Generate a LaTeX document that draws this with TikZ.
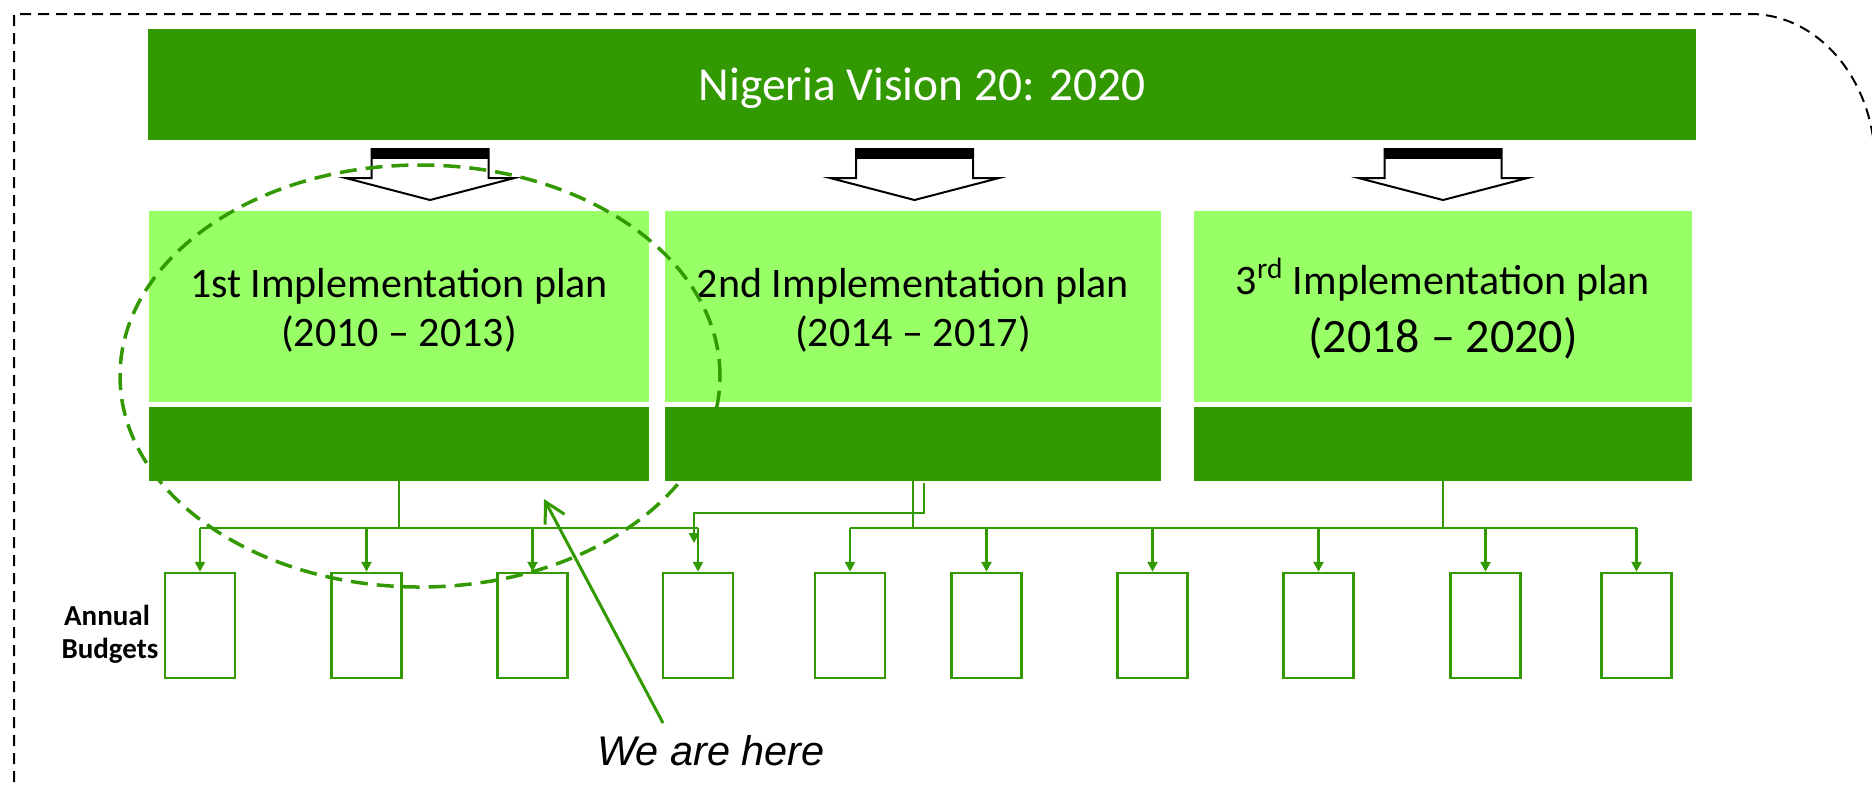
\documentclass[tikz,border=0pt]{standalone}
\usepackage{fontspec}
\setmainfont{Carlito}
\newfontfamily\arialfont{Liberation Sans}
\usetikzlibrary{arrows.meta}
\definecolor{dkgreen}{HTML}{339900}
\definecolor{ltgreen}{HTML}{99FF66}
\tikzset{
  darkbar/.style={fill=dkgreen, draw=none, inner sep=0pt, minimum height=37pt},
  lightbar/.style={fill=ltgreen, draw=none, inner sep=0pt, minimum height=95.5pt},
  plantext/.style={inner sep=0pt, anchor=base, font=\fontsize{21}{25}\selectfont},
  budget/.style={draw=dkgreen, line width=1.25pt, fill=white, minimum width=35pt, minimum height=52.5pt, inner sep=0pt},
  conn/.style={draw=dkgreen, line width=1.25pt},
  feed/.style={conn, -{Triangle[length=5pt,width=5pt]}},
  dropshape/.style={fill=white, draw=black, line width=1pt, line join=miter},
  focusring/.style={draw=dkgreen, line width=1.75pt, dash pattern=on 8.5pt off 4.5pt},
  outerframe/.style={draw=black, line width=1pt, dash pattern=on 5.5pt off 3.5pt},
  pointer/.style={draw=dkgreen, line width=1.5pt, -{Straight Barb[length=10pt,width=11pt]}},
  budgetlabel/.style={inner sep=0pt, anchor=base, font=\bfseries\fontsize{14.5}{17}\selectfont},
}
\newcommand{\plandrop}[1]{%
  \path[dropshape] (#1-58.5,149) -- (#1+58.5,149) -- (#1+58.5,178) -- (#1+84.5,178) -- (#1,200) -- (#1-84.5,178) -- (#1-58.5,178) -- cycle;
  \fill[black] (#1-58.5,148) rectangle (#1+58.5,159);}
\begin{document}
\begin{tikzpicture}[x=0.5pt, y=-0.5pt]
\useasboundingbox (0,0) rectangle (1872,784);
\clip (0,0) rectangle (1872,784);
\fill[white] (0,0) rectangle (1872,784);

% outer dashed frame
\path[outerframe] (14,800) -- (14,14) -- (1750,14) .. controls (1819,14) and (1875,81) .. (1875,164) -- (1875,800);

% main bar
\node[darkbar, minimum width=774pt, minimum height=55.5pt] (vision) at (922,84.5) {};
\node[inner sep=0pt, anchor=base, text=white, font=\fontsize{23.7}{28}\selectfont] (visiontext) at (922,100) {Nigeria Vision 20: 2020};

% block arrows
\plandrop{430}
\plandrop{914.5}
\plandrop{1443}

% plan boxes
\node[lightbar, minimum width=250pt] (plan1) at (399,306.5) {};
\node[lightbar, minimum width=248pt] (plan2) at (913,306.5) {};
\node[lightbar, minimum width=249pt] (plan3) at (1443,306.5) {};
\node[darkbar, minimum width=250pt] (dk1) at (399,444) {};
\node[darkbar, minimum width=248pt] (dk2) at (913,444) {};
\node[darkbar, minimum width=249pt] (dk3) at (1443,444) {};

\node[plantext] (p1a) at (399,297) {1st Implementation plan};
\node[plantext] (p1b) at (399,346) {(2010 – 2013)};
\node[plantext] (p2a) at (913,297) {2nd Implementation plan};
\node[plantext] (p2b) at (913,346) {(2014 – 2017)};
\node[plantext] (p3a) at (1443,294) {3\textsuperscript{rd} Implementation plan};
\node[plantext, font=\fontsize{24}{28}\selectfont] (p3b) at (1443,352) {(2018 – 2020)};

% annual budgets
\node[budget] (b1) at (200,625.5) {};
\node[budget] (b2) at (366.5,625.5) {};
\node[budget] (b3) at (532.5,625.5) {};
\node[budget] (b4) at (698,625.5) {};
\node[budget] (b5) at (850,625.5) {};
\node[budget] (b6) at (986.5,625.5) {};
\node[budget] (b7) at (1152.5,625.5) {};
\node[budget] (b8) at (1318.5,625.5) {};
\node[budget] (b9) at (1485.5,625.5) {};
\node[budget] (b10) at (1636.5,625.5) {};

\node[budgetlabel] (ann) at (107,625) {Annual};
\node[budgetlabel] (bud) at (110,658) {Budgets};

% buses
\coordinate (busy) at (0,528);
\draw[conn] (dk1.south) -- (dk1.south |- busy);
\draw[conn] (b1.north |- busy) -- (b4.north |- busy);
\foreach \b in {b1,b2,b3,b4}{\draw[feed] (\b.north |- busy) -- (\b.north);}
\draw[conn] (dk2.south) -- (dk2.south |- busy);
\draw[conn] (dk3.south) -- (dk3.south |- busy);
\draw[conn] (b5.north |- busy) -- (b10.north |- busy);
\foreach \b in {b5,b6,b7,b8,b9,b10}{\draw[feed] (\b.north |- busy) -- (\b.north);}

% stray connector
\coordinate (s0) at (924,483);
\coordinate (s1) at (694,543);
\draw[feed] (s0) -- (924,513) -| (s1);

% focus ellipse
\draw[focusring] (420,376) ellipse [x radius=150pt, y radius=105.5pt];

% we are here
\node[inner sep=0pt, anchor=base, font=\arialfont\itshape\fontsize{20.75}{24}\selectfont] (here) at (711,765) {We are here};
\coordinate (tail) at (663,723);
\coordinate (tip) at (544,499);
\draw[pointer] (tail) -- (tip);
\end{tikzpicture}
\end{document}
